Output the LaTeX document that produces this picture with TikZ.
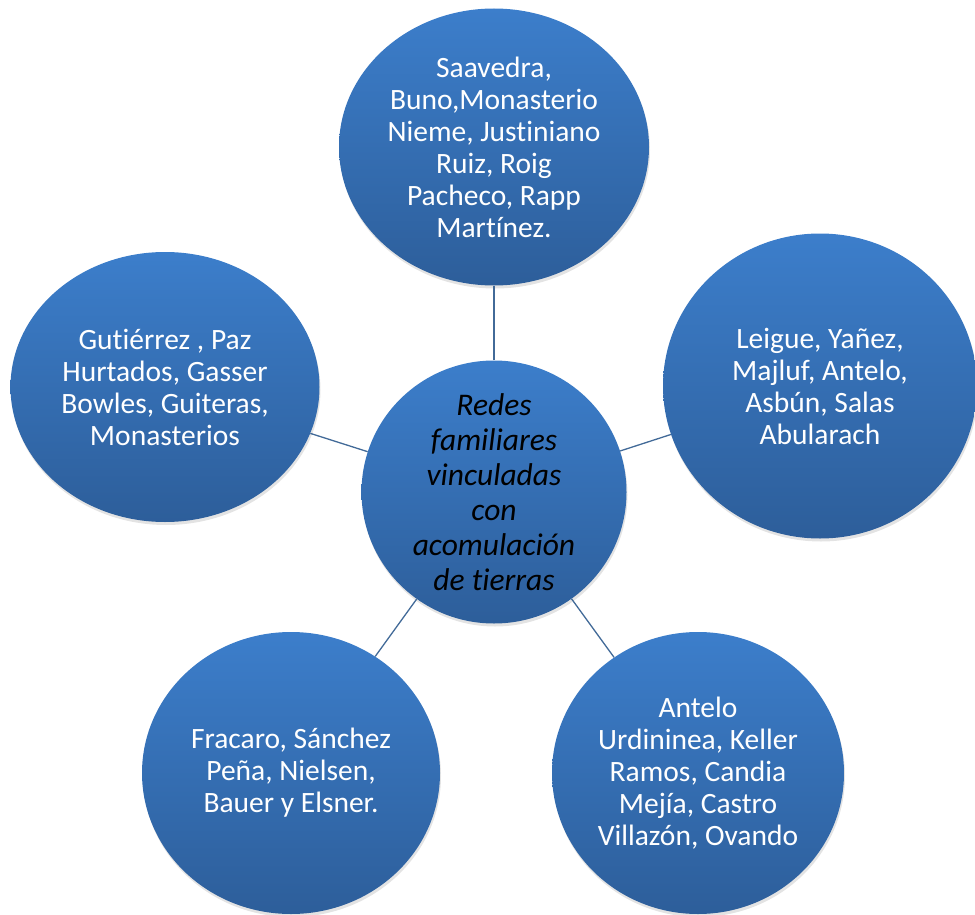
\documentclass[tikz,border=0pt]{standalone}
\usepackage{fontspec}
\setmainfont{Carlito}[Ligatures=NoCommon]
\usepackage{xcolor}
\usetikzlibrary{shapes.geometric,shadows}

\definecolor{blobtop}{RGB}{60,126,203}
\definecolor{blobbottom}{RGB}{45,94,154}
\definecolor{linkline}{RGB}{66,106,152}

\begin{document}
\begin{tikzpicture}[x=1pt,y=-1pt,
    blob/.style={ellipse,inner sep=0pt,top color=blobtop,bottom color=blobbottom,
      drop shadow={opacity=0.22,shadow xshift=1pt,shadow yshift=-3pt}},
    names/.style={align=center,text=white,font=\fontsize{29.5}{32}\selectfont},
    hub text/.style={align=center,text=black,font=\fontsize{31.5}{35}\selectfont\itshape},
    link/.style={draw=linkline,line width=1.3pt}]

  \useasboundingbox (0,0) rectangle (975,915);

  \node[blob,minimum width=265pt,minimum height=263pt] (hub) at (494,492) {};
  \node[blob,minimum width=310pt,minimum height=277pt] (north) at (494,147) {};
  \node[blob,minimum width=309pt,minimum height=270pt] (west) at (165,387) {};
  \node[blob,minimum width=314pt,minimum height=305pt] (east) at (820,386) {};
  \node[blob,minimum width=298pt,minimum height=282pt] (southwest) at (291,773) {};
  \node[blob,minimum width=292pt,minimum height=282pt] (southeast) at (698,773) {};

  \path[link]
    (hub) edge (north)
    (hub) edge (west)
    (hub) edge (east)
    (hub) edge (southwest)
    (hub) edge (southeast);

  \node[hub text] (hub label) at (hub) {Redes\\familiares\\vinculadas\\con\\acomulación\\de tierras};
  \node[names] (north label) at (north) {Saavedra,\\Buno,Monasterio\\Nieme, Justiniano\\Ruiz, Roig\\Pacheco, Rapp\\Martínez.};
  \node[names] (west label) at (west) {Gutiérrez , Paz\\Hurtados, Gasser\\Bowles, Guiteras,\\Monasterios};
  \node[names] (east label) at (east) {Leigue, Yañez,\\Majluf, Antelo,\\Asbún, Salas\\Abularach};
  \node[names] (southwest label) at (southwest) {Fracaro, Sánchez\\Peña, Nielsen,\\Bauer y Elsner.};
  \node[names] (southeast label) at (southeast) {Antelo\\Urdininea, Keller\\Ramos, Candia\\Mejía, Castro\\Villazón, Ovando};
\end{tikzpicture}
\end{document}
